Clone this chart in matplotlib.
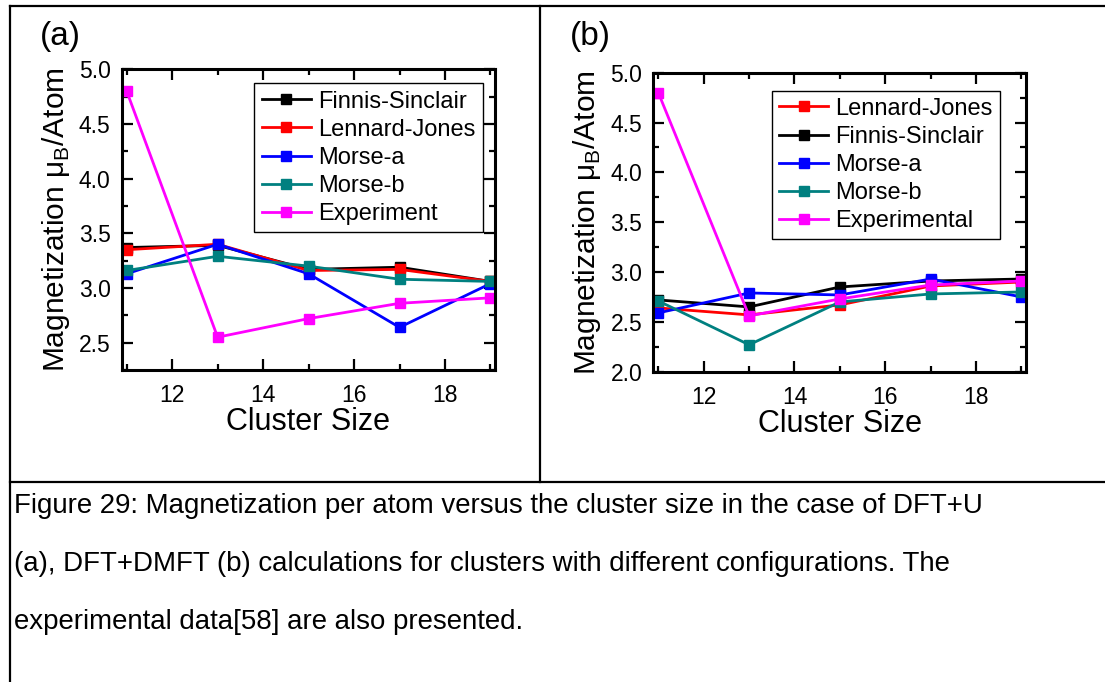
import matplotlib
matplotlib.use("Agg")
import matplotlib.pyplot as plt
from matplotlib.lines import Line2D
from matplotlib.ticker import MultipleLocator

plt.rcParams['font.family'] = ['Liberation Sans', 'DejaVu Sans']
plt.rcParams['mathtext.fontset'] = 'custom'
plt.rcParams['mathtext.rm'] = 'Liberation Sans'

# cluster sizes
sizes = [11, 13, 15, 17, 19]

# (a) DFT+U
a_labels = ["Finnis-Sinclair", "Lennard-Jones", "Morse-a", "Morse-b", "Experiment"]
a_fs = [3.37, 3.39, 3.17, 3.19, 3.06]
a_lj = [3.35, 3.40, 3.16, 3.17, 3.06]
a_ma = [3.13, 3.40, 3.13, 2.64, 3.04]
a_mb = [3.16, 3.29, 3.20, 3.08, 3.06]
a_exp = [4.80, 2.55, 2.72, 2.86, 2.91]

# (b) DFT+DMFT
b_labels = ["Lennard-Jones", "Finnis-Sinclair", "Morse-a", "Morse-b", "Experimental"]
b_lj = [2.64, 2.57, 2.67, 2.86, 2.90]
b_fs = [2.72, 2.65, 2.85, 2.91, 2.93]
b_ma = [2.59, 2.79, 2.77, 2.93, 2.75]
b_mb = [2.71, 2.27, 2.70, 2.78, 2.80]
b_exp = [4.80, 2.56, 2.73, 2.87, 2.91]

caption = ["Figure 29: Magnetization per atom versus the cluster size in the case of DFT+U",
           "(a), DFT+DMFT (b) calculations for clusters with different configurations. The",
           "experimental data[58] are also presented."]

W, H = 1105, 682
fig = plt.figure(figsize=(W / 100, H / 100), dpi=100)


def px(x0, y0, x1, y1):
    # pixel box (top-left origin) -> figure fraction rect
    return [x0 / W, 1 - y1 / H, (x1 - x0) / W, (y1 - y0) / H]


def style_axes(ax, ylim):
    ax.set_xlim(10.89, 19.1)
    ax.set_ylim(*ylim)
    ax.xaxis.set_major_locator(MultipleLocator(2))
    ax.xaxis.set_minor_locator(MultipleLocator(1))
    ax.yaxis.set_major_locator(MultipleLocator(0.5))
    ax.yaxis.set_minor_locator(MultipleLocator(0.25))
    ax.tick_params(which='both', direction='in', top=True, right=True, width=1.6)
    ax.tick_params(which='major', length=8, labelsize=16.5)
    ax.tick_params(axis='x', which='major', pad=10)
    ax.tick_params(axis='y', which='major', pad=8)
    ax.tick_params(which='minor', length=4)
    for s in ax.spines.values():
        s.set_linewidth(2.2)
    ax.set_xlabel("Cluster Size", fontsize=22, labelpad=0)
    ax.set_ylabel("Magnetization μ$_{\\rm B}$/Atom", fontsize=21.5, labelpad=5)


def draw(ax, series, colors, labels):
    for y, c, lab in zip(series, colors, labels):
        ax.plot(sizes, y, '-s', color=c, lw=2.0, ms=7.5, label=lab, clip_on=False)


def add_legend(ax, anchor):
    leg = ax.legend(loc='upper right', bbox_to_anchor=anchor, borderaxespad=0,
                    fontsize=17, handlelength=2.1, labelspacing=0.26, fancybox=False,
                    framealpha=1, edgecolor='black', borderpad=0.3, handletextpad=0.3)
    leg.get_frame().set_linewidth(1.0)


ax1 = fig.add_axes(px(121.7, 69.3, 495, 370))
draw(ax1, [a_fs, a_lj, a_ma, a_mb, a_exp],
     ["black", "red", "blue", "#008080", "magenta"], a_labels)
style_axes(ax1, (2.25, 5.0))
ax1.set_xticks([12, 14, 16, 18])
ax1.set_yticks([2.5, 3.0, 3.5, 4.0, 4.5, 5.0])
add_legend(ax1, (0.967, 0.953))

ax2 = fig.add_axes(px(653.3, 72.7, 1026, 371.7))
draw(ax2, [b_lj, b_fs, b_ma, b_mb, b_exp],
     ["red", "black", "blue", "#008080", "magenta"], b_labels)
style_axes(ax2, (2.0, 5.0))
ax2.set_xticks([12, 14, 16, 18])
add_legend(ax2, (0.930, 0.940))

fig.text(40 / W, 1 - 36 / H, "(a)", fontsize=24, va='center', ha='left')
fig.text(570 / W, 1 - 36 / H, "(b)", fontsize=24, va='center', ha='left')

# table borders around the panels and the caption
lines = [((9.5, 6), (1105, 6)), ((9.5, 6), (9.5, 682)), ((540, 6), (540, 482)),
         ((9.5, 482), (1105, 482))]
for (x0, y0), (x1, y1) in lines:
    fig.add_artist(Line2D([x0 / W, x1 / W], [1 - y0 / H, 1 - y1 / H],
                          color='black', lw=1.6, transform=fig.transFigure))

for i, line in enumerate(caption):
    fig.text(14 / W, 1 - (506 + 58 * i) / H, line, fontsize=19.9, va='center', ha='left')

fig.savefig("out.png", dpi=100)
